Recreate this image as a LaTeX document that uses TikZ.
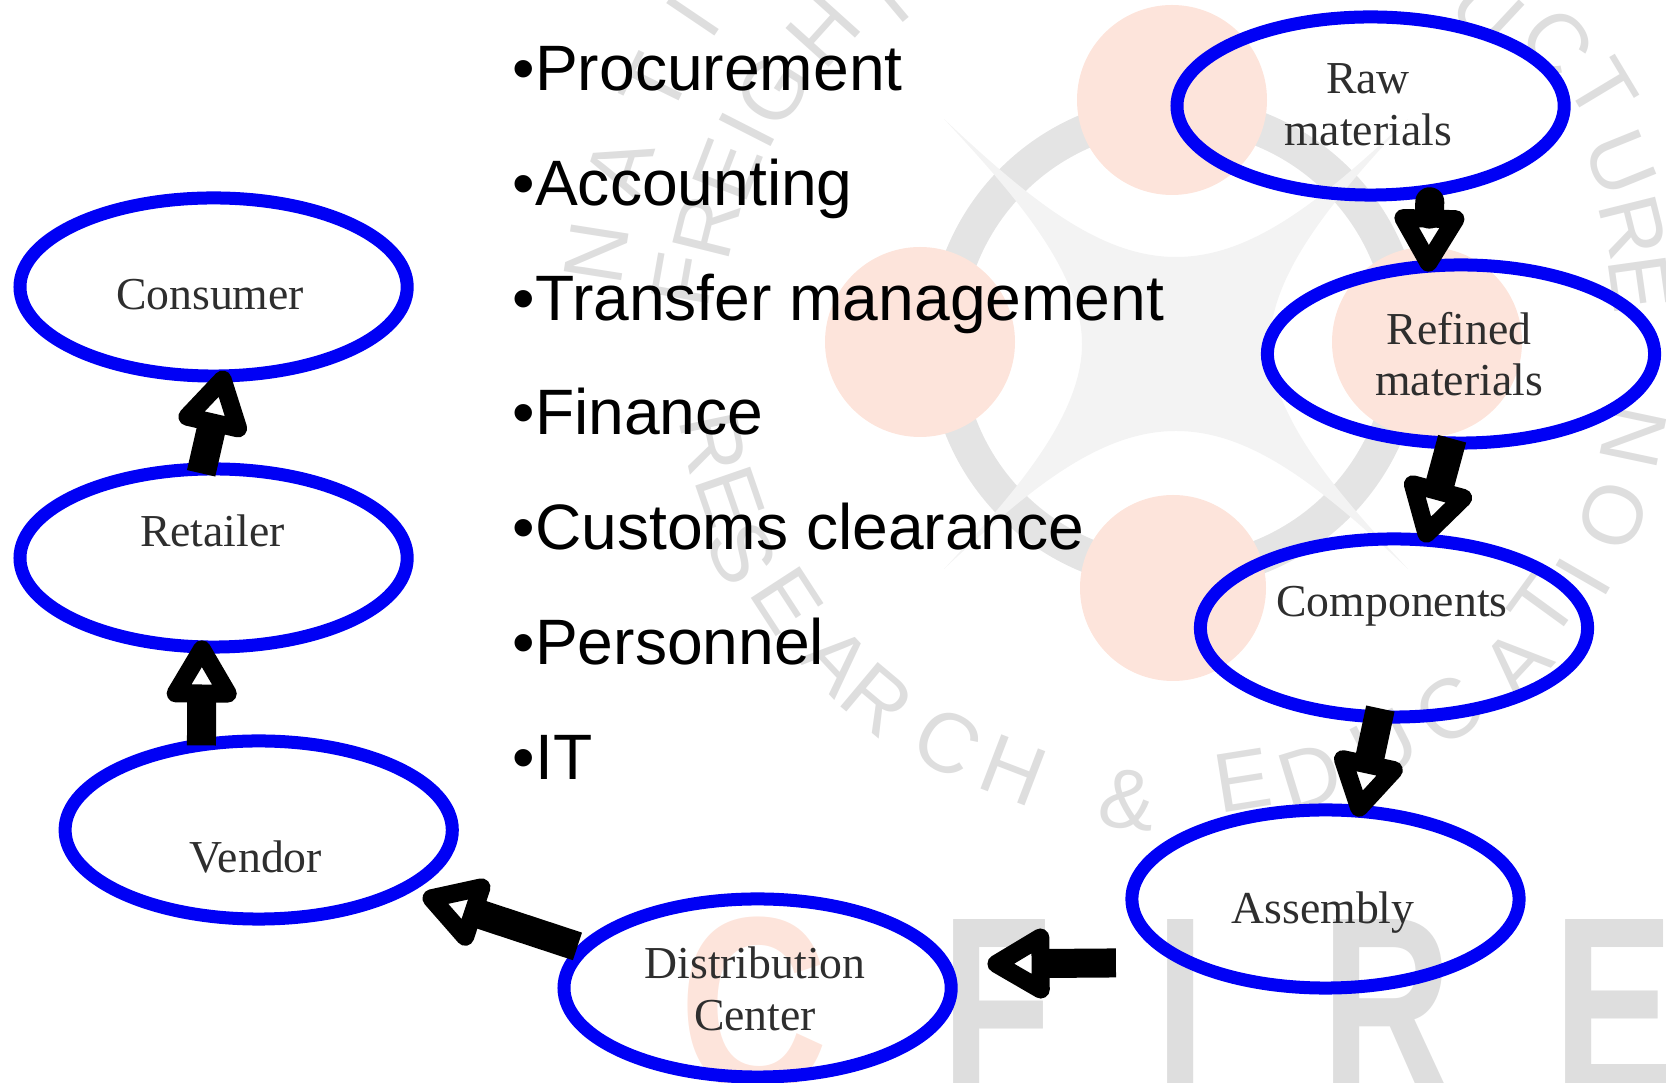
\documentclass[tikz,border=0pt]{standalone}
\usepackage{fontspec}
\setmainfont{Liberation Serif}
\newfontfamily\armfont{Liberation Sans}
\usetikzlibrary{arrows.meta,shapes.geometric}
\definecolor{blobblue}{RGB}{0,0,245}
\definecolor{peach}{RGB}{253,228,219}
\definecolor{ringgrey}{RGB}{228,228,228}
\definecolor{stargrey}{RGB}{243,243,243}
\definecolor{markgrey}{RGB}{222,222,222}
\tikzset{
    blob/.style ={
        shape=ellipse,
        draw=blobblue,
        line width=.13cm,
        minimum width=3.87cm,
        minimum height=1.78cm
    },
    blobtext/.style ={
        align=center,
        inner sep=0pt,
        text=black!82,
        font=\fontsize{13}{14.7}\selectfont
    },
    tasktext/.style ={
        anchor=base west,
        inner sep=0pt,
        font=\armfont\fontsize{18.25}{22}\selectfont
    },
    flow/.style ={
        black,
        line width=.29cm,
        -{Triangle[open,round,length=.72cm,width=.78cm,line width=.2cm]}
    },
    markletter/.style ={
        inner sep=0pt,
        text=markgrey,
        font=\armfont\fontsize{24}{24}\selectfont
    },
    bigletter/.style ={
        anchor=base west,
        inner sep=0pt,
        xscale=.72,
        text=markgrey,
        font=\armfont\bfseries\fontsize{71.5}{72}\selectfont
    }
}

\begin{document}
\begin{tikzpicture}[x=.01cm,y=-.01cm]
    \useasboundingbox (0,0) rectangle (1666,1083);

    % faded logo behind everything
    \draw[ringgrey,line width=.34cm] (1175,343) circle [radius=230];
    \fill[stargrey] (944,119) .. controls (1030,200) and (1100,257) .. (1176,257)
        .. controls (1252,257) and (1322,200) .. (1408,119)
        .. controls (1342,190) and (1270,270) .. (1270,344)
        .. controls (1270,418) and (1342,498) .. (1408,569)
        .. controls (1322,488) and (1252,431) .. (1176,431)
        .. controls (1100,431) and (1030,488) .. (944,569)
        .. controls (1010,498) and (1082,418) .. (1082,344)
        .. controls (1082,270) and (1010,190) .. (944,119);
    \fill[peach] (1172,100) circle [radius=95];
    \fill[peach] (920,342) circle [radius=95];
    \fill[peach] (1173,588) circle [radius=93];
    \fill[peach] (1427,342) circle [radius=95];

    \foreach \x/\y/\r/\c in {
        597/253/81/N, 620/167/72/A, 655/85/64/T, 693/17/56/I,
        683/280/80/F, 707/227/76/R, 727/170/69/E, 747/130/63/I, 773/90/58/G, 823/30/48/H, 888/-2/40/T,
        1487/10/-43/U, 1557/43/-52/C, 1603/90/-59/T, 1620/163/-68/U, 1633/227/-76/R, 1640/283/-82/E,
        713/443/-78/R, 730/497/-71/E, 742/553/-64/S, 787/600/-57/E, 837/660/-47/A, 877/700/-40/R,
        947/743/-30/C, 1013/770/-21/H, 1127/800/-6/\&, 1243/780/9/E, 1310/777/17/D, 1385/745/27/U,
        1449/710/37/C, 1516/663/47/A, 1543/607/54/T, 1583/577/60/I, 1613/515/69/O, 1633/437/78/N
    }
        \node[markletter,rotate=\r] (mark\x) at (\x,\y) {\c};

    \node[bigletter,xscale=1.14,text=peach] (bigc) at (679,1093) {C};
    \node[bigletter] (bigf) at (941,1093) {F};
    \node[bigletter] (bigi) at (1155,1093) {I};
    \node[bigletter] (bigr) at (1321,1093) {R};
    \node[bigletter] (bige) at (1553,1093) {E};

    \node[tasktext] (procurement) at (512,91) {•Procurement};
    \node[tasktext] (accounting) at (512,206) {•Accounting};
    \node[tasktext] (transfer) at (512,321) {•Transfer management};
    \node[tasktext] (finance) at (512,435) {•Finance};
    \node[tasktext] (customs) at (512,550) {•Customs clearance};
    \node[tasktext] (personnel) at (512,665) {•Personnel};
    \node[tasktext] (it) at (512,780) {•IT};

    \node[blob] (raw) at (1370.6,106) {};
    \node[blob] (refined) at (1461,354) {};
    \node[blob] (components) at (1394,628) {};
    \node[blob] (assembly) at (1325.5,899) {};
    \node[blob] (distribution) at (757.6,988) {};
    \node[blob] (vendor) at (258.7,830) {};
    \node[blob] (retailer) at (213.6,558) {};
    \node[blob] (consumer) at (213.6,287) {};

    \node[blobtext] (rawtext) at (1368,105) {Raw\\materials};
    \node[blobtext] (refinedtext) at (1459,354) {Refined\\materials};
    \node[blobtext] (componentstext) at (1392,606) {Components};
    \node[blobtext] (assemblytext) at (1323,913) {Assembly};
    \node[blobtext] (distributiontext) at (755,989) {Distribution\\Center};
    \node[blobtext] (vendortext) at (256,857) {Vendor};
    \node[blobtext] (retailertext) at (212.5,531) {Retailer};
    \node[blobtext] (consumertext) at (210,295) {Consumer};

    \draw[flow,line cap=round,shorten <=.045cm,shorten >=-.12cm] (raw.-57.9) -- (refined.109.3);
    \draw[flow,shorten <=-.11cm,shorten >=-.09cm] (refined.-97.2) -- (components.71.3);
    \draw[flow,shorten <=-.15cm,shorten >=-.12cm] (components.-100.4) -- (assembly.70.4);
    \draw[flow,shorten <=.6cm,shorten >=.36cm] (assembly.203.9) -- (distribution.7.07);
    \draw[flow,shorten >=.12cm] (distribution.167.4) -- (vendor.-22.4);
    \draw[flow,shorten <=-.07cm,shorten >=-.13cm] (vendor.122.3) -- (retailer.-97.8);
    \draw[flow,shorten <=-.11cm,shorten >=-.12cm] (retailer.96.3) -- (consumer.-85);
\end{tikzpicture}
\end{document}
